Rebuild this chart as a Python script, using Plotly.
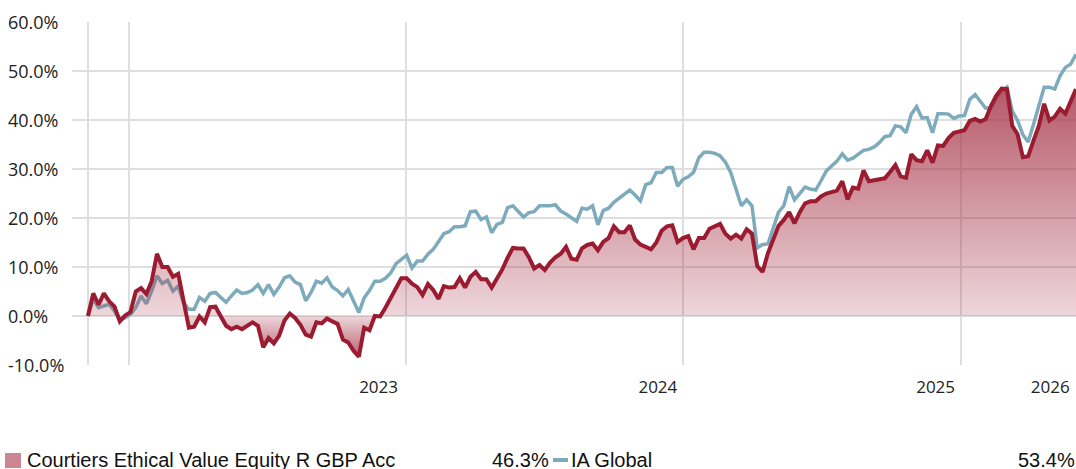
import pandas as pd
import plotly.graph_objects as go

# ---------------- data (cumulative performance, %) ----------------
start_date = "2021-11-08"

fund_name = "Courtiers Ethical Value Equity R GBP Acc"
bench_name = "IA Global"

fund = [
    0.0, 4.6, 2.3, 4.6, 3.0, 1.9, -1.1, 0.1, 0.8, 5.0, 5.7, 4.5, 7.1, 12.7, 10.0, 10.0,
    8.0, 8.6, 3.1, -2.4, -2.2, -0.1, -1.3, 1.8, 1.9, 0.1, -2.0, -2.7, -2.2, -2.7, -2.0,
    -1.3, -2.0, -6.4, -4.5, -5.6, -4.0, -0.9, 0.5, -0.4, -1.8, -3.8, -4.2, -1.3, -1.5,
    -0.5, -1.1, -1.6,
    -4.8, -5.4, -7.1, -8.3, -2.4, -2.9, 0.0, -0.1, 1.7, 3.7, 5.8, 7.7, 7.7, 6.6, 5.9,
    4.3, 6.5, 5.3, 3.5, 6.1, 5.8, 5.9, 7.7, 5.8, 8.0, 9.0, 7.5, 7.5, 5.8, 7.5, 9.5, 11.9,
    13.9, 13.8, 13.8, 12.0, 9.7, 10.4, 9.4, 10.9, 12.0, 12.7, 14.1, 11.7, 11.5,
    13.8, 14.5, 14.8, 13.4, 15.1, 15.9, 18.3, 17.1, 17.1, 18.5, 15.6, 14.6, 14.1, 13.6,
    15.0, 17.4, 18.3, 18.5, 15.1, 15.9, 16.3, 13.6, 15.9, 15.9, 17.8, 18.2, 18.8, 16.8,
    15.8, 16.6, 15.8, 17.7, 16.8, 10.2, 9.0, 12.8, 15.8, 18.4, 19.6, 21.2, 18.9, 21.2,
    23.0, 23.4, 23.4, 24.4,
    25.0, 25.2, 25.6, 27.5, 23.8, 26.2, 26.0, 29.7, 27.5, 27.7, 27.9, 28.1, 29.4, 30.8,
    28.5, 28.2, 33.0, 31.8, 31.6, 33.8, 31.3, 34.8, 34.7, 36.3, 37.4, 37.6, 37.9, 39.8,
    40.2, 39.7, 40.2, 42.9, 45.0, 46.4, 46.3, 38.8, 37.1, 32.4, 32.6, 35.8, 38.8, 43.3,
    39.9, 40.7, 42.3, 41.3, 43.8, 46.3,
]

bench = [
    0.0, 3.4, 1.7, 2.0, 2.4, 1.0, -0.8, -0.4, 0.3, 1.7, 4.1, 2.5, 5.1, 8.2, 6.6, 7.3,
    5.1, 6.1, 2.7, 1.4, 1.4, 3.8, 3.0, 4.6, 4.8, 3.8, 2.8, 4.1, 5.3, 4.6, 4.8, 5.3, 6.4,
    4.6, 6.4, 4.4, 5.9, 7.8, 8.2, 6.9, 6.4, 3.1, 4.8, 7.1, 6.7, 7.8, 5.9, 5.2,
    4.1, 5.4, 3.1, 0.7, 3.7, 5.2, 7.1, 7.1, 7.7, 8.8, 10.7, 11.6, 12.4, 9.8, 11.2, 11.2,
    12.6, 13.6, 15.3, 16.8, 17.2, 18.2, 18.2, 18.4, 21.3, 21.4, 19.7, 20.2, 17.0, 18.7,
    19.1, 22.1, 22.5, 21.4, 20.2, 21.1, 21.3, 22.5, 22.5, 22.5, 22.7, 21.4, 20.8, 20.1,
    19.3,
    22.0, 21.8, 22.5, 18.6, 21.5, 22.0, 23.2, 24.0, 25.0, 25.7, 24.7, 23.5, 26.8, 27.2,
    29.3, 29.3, 30.3, 30.3, 26.5, 27.9, 28.4, 29.3, 32.3, 33.4, 33.4, 33.2, 32.7, 31.4,
    29.3, 25.6, 22.5, 23.7, 22.5, 13.9, 14.6, 14.7, 17.8, 21.2, 22.5, 26.4, 23.7, 25.0,
    26.3, 25.9, 25.7, 27.6,
    29.6, 30.6, 31.6, 33.1, 31.8, 32.2, 32.9, 33.8, 34.0, 34.5, 35.4, 36.6, 36.8, 38.8,
    38.6, 37.4, 41.2, 42.7, 40.4, 40.5, 37.4, 41.3, 41.3, 41.2, 40.3, 40.8, 40.9, 44.2,
    45.2, 43.7, 42.4, 42.5, 44.5, 45.9, 46.7, 41.8, 39.9, 37.0, 35.5, 39.1, 42.9, 46.7,
    46.7, 46.3, 49.0, 50.7, 51.4, 53.4,
]

fund_total = "46.3%"
bench_total = "53.4%"

y_ticks = [-10, 0, 10, 20, 30, 40, 50, 60]
x_tick_dates = ["2022-11-26", "2023-11-29", "2024-11-29", "2025-04-29"]
x_tick_text = ["2023", "2024", "2025", "2026"]
x_grid_dates = ["2021-11-08", "2022-01-01", "2023-01-01", "2024-01-01", "2025-01-01"]
x_range_start = "2021-10-18"

dates = pd.date_range(start_date, periods=len(fund), freq="7D")

# ---------------- styling ----------------
W, H = 1076, 469
ML, MR, MT, MB = 72, 0, 22, 104
PW, PH = W - ML - MR, H - MT - MB

RED = "#9b1b30"
BLUE = "#7eabbb"
GRID = "#dedede"
TXT = "#222222"


def px_x(px):
    return (px - ML) / PW


def px_y(py):
    return (H - MB - py) / PH


fig = go.Figure()

fig.add_trace(go.Scatter(
    x=dates, y=bench, mode="lines", name=bench_name,
    line=dict(color=BLUE, width=3.5), hoverinfo="skip", showlegend=False,
))

fig.add_trace(go.Scatter(
    x=dates, y=fund, mode="lines", name=fund_name,
    line=dict(color=RED, width=4), fill="tozeroy",
    fillgradient=dict(
        type="vertical", start=-8.5, stop=47,
        colorscale=[
            [0.0, "rgba(167,55,74,0.80)"],
            [8.5 / 55.5, "rgba(167,55,74,0.2)"],
            [1.0, "rgba(167,55,74,0.84)"],
        ],
    ),
    hoverinfo="skip", showlegend=False,
))

annotations = []
for v in y_ticks:
    annotations.append(dict(
        text=f"{v:.1f}%", x=px_x(6), xref="paper", xanchor="left",
        y=v, yref="y", yanchor="middle", showarrow=False,
        font=dict(family="Open Sans", size=18, color=TXT),
    ))

LEG_Y = px_y(460)
leg_font = dict(family="Liberation Sans", size=20, color="#111111")
annotations += [
    dict(text=fund_name, x=px_x(25), xref="paper", xanchor="left",
         y=LEG_Y, yref="paper", yanchor="middle", showarrow=False, font=leg_font),
    dict(text=fund_total, x=px_x(551), xref="paper", xanchor="right",
         y=LEG_Y, yref="paper", yanchor="middle", showarrow=False, font=leg_font),
    dict(text=bench_name, x=px_x(569), xref="paper", xanchor="left",
         y=LEG_Y, yref="paper", yanchor="middle", showarrow=False, font=leg_font),
    dict(text=bench_total, x=px_x(1077), xref="paper", xanchor="right",
         y=LEG_Y, yref="paper", yanchor="middle", showarrow=False, font=leg_font),
]

shapes = [
    dict(type="rect", xref="paper", yref="paper",
         x0=px_x(5), x1=px_x(21), y0=px_y(468), y1=px_y(453),
         line=dict(width=0), fillcolor="rgba(167,55,74,0.6)"),
    dict(type="line", xref="paper", yref="paper",
         x0=px_x(553), x1=px_x(568), y0=px_y(460), y1=px_y(460),
         line=dict(color=BLUE, width=4)),
]

fig.update_layout(
    width=W, height=H,
    margin=dict(l=ML, r=MR, t=MT, b=MB, pad=0),
    paper_bgcolor="white", plot_bgcolor="white",
    showlegend=False,
    annotations=annotations, shapes=shapes,
    xaxis=dict(
        type="date", range=[x_range_start, dates[-1]],
        tickmode="array", tickvals=x_tick_dates, ticktext=x_tick_text,
        showgrid=False, zeroline=False, showline=False, ticks="",
        ticklabelstandoff=10,
        tickfont=dict(family="Open Sans", size=17, color=TXT),
        minor=dict(tickmode="array", tickvals=x_grid_dates, showgrid=True,
                   gridcolor=GRID, gridwidth=2, ticks=""),
    ),
    yaxis=dict(
        range=[-10, 60], tickmode="array", tickvals=y_ticks,
        showticklabels=False, showgrid=True, gridcolor=GRID, gridwidth=2,
        zeroline=False, showline=False, ticks="",
    ),
)

fig.write_html(
    "out.html",
    config={"displayModeBar": False},
    post_script="document.body.style.margin='0px';document.body.style.padding='0px';"
                "document.documentElement.style.overflow='hidden';",
)
